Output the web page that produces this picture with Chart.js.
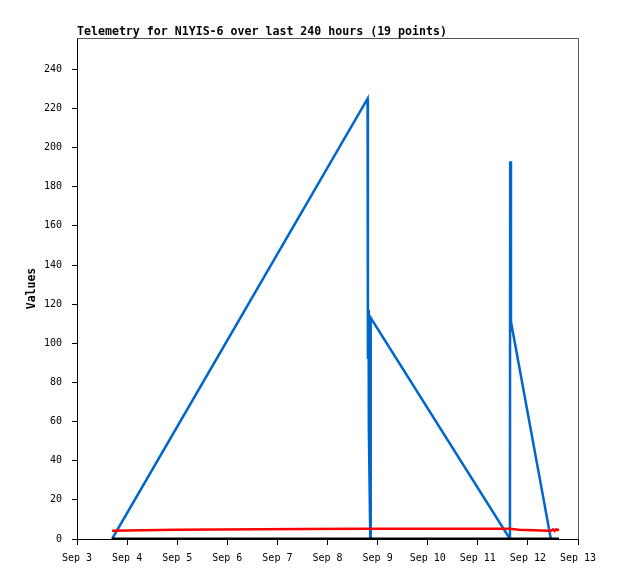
<!DOCTYPE html>
<html>
<head>
<meta charset="utf-8">
<script src="https://cdn.jsdelivr.net/npm/chart.js@4"></script>
<style>
  body { margin: 0; background: #fff; }
  canvas { display: block; }
</style>
</head>
<body>
<canvas id="myChart" width="618" height="579"></canvas>
<script>
// hours since Sep 3 00:00
const blueHours = [16.8, 139.2, 139.3, 139.4, 139.7, 139.8, 140.5, 140.7, 207.4, 207.5, 207.9, 227.0];
const blueValues = [0, 225, 176, 92, 117, 57, 0, 113, 0, 193, 111, 0];

const redHours = [16.8, 47, 108.5, 139.2, 207.4, 211.7, 222, 227, 228, 228.8, 229.5, 230.2, 230.9];
const redValues = [4.2, 4.7, 5.1, 5.2, 5.2, 4.7, 4.3, 4.2, 4.9, 4.1, 5.0, 4.6, 4.9];

const blackHours = [16.8, 230.9];
const blackValues = [0, 0];

const xTickHours = [0, 24, 48, 72, 96, 120, 144, 168, 192, 216, 240];
const xTickLabels = ['Sep 3', 'Sep 4', 'Sep 5', 'Sep 6', 'Sep 7', 'Sep 8', 'Sep 9', 'Sep 10', 'Sep 11', 'Sep 12', 'Sep 13'];
const yTicks = [0, 20, 40, 60, 80, 100, 120, 140, 160, 180, 200, 220, 240];

const titleText = 'Telemetry for N1YIS-6 over last 240 hours (19 points)';
const mono = "'DejaVu Sans Mono', monospace";

function pts(xs, ys) {
    return xs.map((x, i) => ({ x: x, y: ys[i] }));
}

const frame = {
    id: 'frame',
    afterDraw(chart) {
        const c = chart.ctx;
        const a = chart.chartArea;
        c.save();
        c.strokeStyle = '#555';
        c.lineWidth = 1;
        c.beginPath();
        c.moveTo(a.left, a.top + 0.5);
        c.lineTo(a.right + 0.5, a.top + 0.5);
        c.lineTo(a.right + 0.5, a.bottom);
        c.stroke();
        c.fillStyle = '#000';
        c.font = 'bold 11.6px ' + mono;
        c.textBaseline = 'alphabetic';
        c.fillText(titleText, a.left, 35);
        c.restore();
    }
};

const ctx = document.getElementById('myChart');

const myChart = new Chart(ctx, {
    type: 'line',
    data: {
        datasets: [{
            data: pts(blackHours, blackValues),
            borderColor: '#000',
            borderWidth: 3
        }, {
            data: pts(redHours, redValues),
            borderColor: '#ff0000',
            borderWidth: 2.5
        }, {
            data: pts(blueHours, blueValues),
            borderColor: '#0066cc',
            borderWidth: 2.5
        }]
    },
    options: {
        responsive: false,
        animation: false,
        elements: {
            point: { radius: 0 },
            line: { tension: 0 }
        },
        layout: {
            padding: { top: 38, right: 40, bottom: 0, left: 0 }
        },
        scales: {
            x: {
                type: 'linear',
                min: 0,
                max: 240,
                afterBuildTicks: (s) => { s.ticks = xTickHours.map(v => ({ value: v })); },
                afterFit: (s) => { s.height = 40; },
                ticks: {
                    autoSkip: false,
                    maxRotation: 0,
                    padding: 7,
                    color: '#000',
                    font: { family: mono, size: 10 },
                    callback: (v) => xTickLabels[xTickHours.indexOf(v)]
                },
                grid: { drawOnChartArea: false, tickLength: 6, color: '#000' },
                border: { color: '#000', width: 1 }
            },
            y: {
                min: 0,
                max: 256,
                afterBuildTicks: (s) => { s.ticks = yTicks.map(v => ({ value: v })); },
                afterFit: (s) => { s.width = 77; },
                ticks: {
                    padding: 10,
                    color: '#000',
                    font: { family: mono, size: 10 }
                },
                grid: { drawOnChartArea: false, tickLength: 5, color: '#000' },
                border: { color: '#000', width: 1 },
                title: {
                    display: true,
                    text: 'Values',
                    color: '#000',
                    font: { family: mono, size: 11.5, weight: 'bold' },
                    padding: { top: 25, bottom: 0 }
                }
            }
        },
        plugins: {
            legend: { display: false },
            tooltip: { enabled: false }
        }
    },
    plugins: [frame]
});
</script>
</body>
</html>
